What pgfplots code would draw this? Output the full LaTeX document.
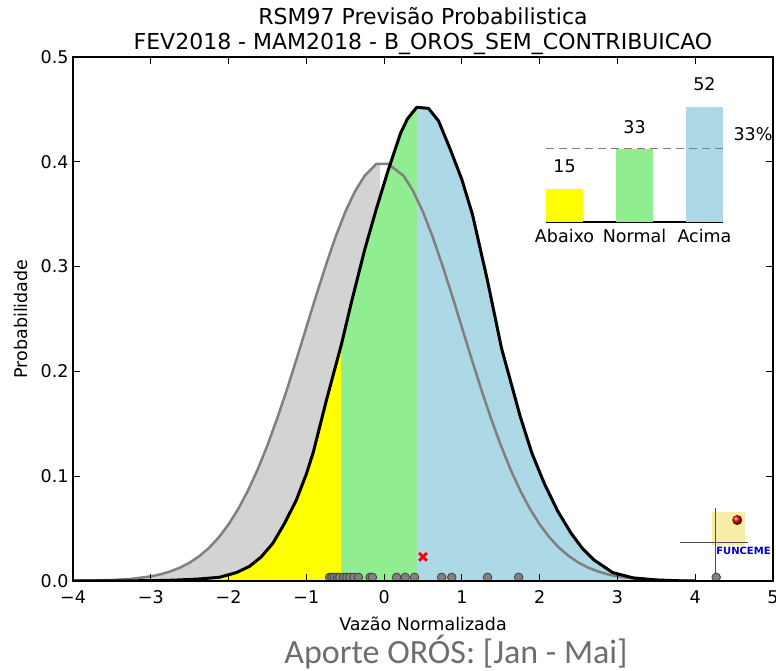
\documentclass[border=0pt]{standalone}
\usepackage{fontspec}
\setmainfont{DejaVu Sans}
\newfontfamily\bottomfont{Carlito}
\usepackage{pgfplots}
\usepackage{pgfplotstable}
\pgfplotsset{compat=1.18}
\usepgfplotslibrary{fillbetween}

\definecolor{cyel}{HTML}{FFFF00}
\definecolor{cgreen}{HTML}{90EE90}
\definecolor{cblue}{HTML}{ADD8E6}
\definecolor{cgrayfill}{HTML}{D3D3D3}
\definecolor{cgrayline}{HTML}{808080}
\definecolor{clogo}{HTML}{F8EDA6}
\definecolor{cbottom}{HTML}{6E6E6E}

\pgfplotstableread{
x y
-4 0.0001
-3.75 0.0004
-3.5 0.0009
-3.25 0.0020
-3 0.0044
-2.875 0.0064
-2.75 0.0091
-2.625 0.0127
-2.5 0.0175
-2.375 0.0238
-2.25 0.0317
-2.125 0.0417
-2 0.0540
-1.875 0.0688
-1.75 0.0863
-1.625 0.1065
-1.5 0.1295
-1.375 0.1550
-1.25 0.1826
-1.125 0.2119
-1 0.2420
-0.875 0.2721
-0.75 0.3011
-0.625 0.3282
-0.5 0.3521
-0.375 0.3718
-0.25 0.3867
-0.1 0.3980
0.05 0.3980
0.25 0.3867
0.375 0.3718
0.5 0.3521
0.625 0.3282
0.75 0.3011
0.875 0.2721
1 0.2420
1.125 0.2119
1.25 0.1826
1.375 0.1550
1.5 0.1295
1.625 0.1065
1.75 0.0863
1.875 0.0688
2 0.0540
2.125 0.0417
2.25 0.0317
2.375 0.0238
2.5 0.0175
2.625 0.0127
2.75 0.0091
2.875 0.0064
3 0.0044
3.25 0.0020
3.5 0.0009
3.75 0.0004
4 0.0001
}\graycurve

\pgfplotstableread{
x y
-4 0
-3.5 0.0001
-3.0 0.0003
-2.7 0.0008
-2.4 0.0018
-2.12 0.0035
-1.9 0.008
-1.73 0.014
-1.58 0.023
-1.43 0.036
-1.28 0.055
-1.13 0.077
-1.0 0.102
-0.91 0.123
-0.74 0.173
-0.57 0.220
-0.55 0.2255
-0.42 0.266
-0.25 0.316
-0.1 0.355
0.04 0.389
0.21 0.427
0.30 0.441
0.42 0.452
0.57 0.451
0.70 0.439
0.85 0.412
1.0 0.383
1.135 0.350
1.325 0.288
1.51 0.222
1.75 0.157
1.9 0.122
2.06 0.093
2.23 0.067
2.40 0.046
2.55 0.031
2.70 0.020
2.94 0.008
3.2 0.003
3.5 0.001
3.8 0.0002
4.0 0
}\blackcurve

\pgfplotstableread{
x y
-0.70 0.0035
-0.67 0.0035
-0.64 0.0035
-0.60 0.0035
-0.57 0.0035
-0.52 0.0035
-0.48 0.0035
-0.44 0.0035
-0.39 0.0035
-0.33 0.0035
-0.18 0.0035
-0.15 0.0035
0.16 0.0035
0.27 0.0035
0.39 0.0035
0.74 0.0035
0.87 0.0035
1.33 0.0035
1.73 0.0035
4.27 0.0035
}\obsdots

\begin{document}
\begin{tikzpicture}
\begin{axis}[
  name=main,
  at={(0,0)}, anchor=south west,
  scale only axis, width=700pt, height=524pt,
  xmin=-4, xmax=5, ymin=0, ymax=0.5,
  xtick={-4,-3,-2,-1,0,1,2,3,4,5},
  xticklabels={−4,−3,−2,−1,0,1,2,3,4,5},
  ytick={0,0.1,0.2,0.3,0.4,0.5},
  yticklabels={0.0,0.1,0.2,0.3,0.4,0.5},
  tick align=inside, xtick pos=both, ytick pos=both,
  xticklabel pos=bottom, yticklabel pos=left,
  major tick length=7pt,
  tick style={black, line width=0.8pt},
  axis line style={black, line width=1.3pt},
  tick label style={font=\fontsize{17.5}{20}\selectfont},
  xticklabel style={yshift=-6pt},
  yticklabel style={xshift=-1pt},
  xlabel={Vazão Normalizada}, ylabel={Probabilidade},
  label style={font=\fontsize{17.5}{20}\selectfont},
  xlabel style={yshift=-6pt},
  ylabel style={yshift=6pt},
  title={RSM97 Previsão Probabilistica\\FEV2018 - MAM2018 - B\_OROS\_SEM\_CONTRIBUICAO},
  title style={font=\fontsize{22}{24.5}\selectfont, align=center, yshift=-7pt},
  axis on top,
]
\addplot[name path=base, draw=none] coordinates {(-4,0) (4,0)};
\addplot[name path=gray, draw=none] table[x=x,y=y] {\graycurve};
\addplot[cgrayfill] fill between[of=gray and base, soft clip={domain=-4:-0.05}];
\addplot[name path=blk, draw=none] table[x=x,y=y] {\blackcurve};
\addplot[cyel] fill between[of=blk and base, soft clip={domain=-4:-0.55}];
\addplot[cgreen] fill between[of=blk and base, soft clip={domain=-0.55:0.42}];
\addplot[cblue] fill between[of=blk and base, soft clip={domain=0.42:4}];
\addplot[cgrayline, line width=2.5pt, line join=round] table[x=x,y=y] {\graycurve};
\addplot[black, line width=3pt, line join=round] table[x=x,y=y] {\blackcurve};
\addplot[only marks, mark=*, mark size=4.3pt, mark options={fill=cgrayline, draw=black!75, line width=0.8pt}] table[x=x,y=y] {\obsdots};
\addplot[only marks, mark=x, mark size=5.5pt, red, mark options={line width=2.8pt}] coordinates {(0.5,0.023)};
% FUNCEME logo
\fill[clogo] (axis cs:4.216,0.0344) rectangle (axis cs:4.64,0.0658);
\draw[black!70, line width=1pt] (axis cs:4.255,0.004) -- (axis cs:4.255,0.0697);
\draw[black!70, line width=1pt] (axis cs:3.80,0.0372) -- (axis cs:4.68,0.0372);
\shade[ball color=red!80!black] (axis cs:4.54,0.0582) circle (5pt);
\node[font=\bfseries\fontsize{10}{12}\selectfont, text=blue!80!black] at (axis cs:4.62,0.0286) {FUNCEME};
\end{axis}

\begin{axis}[
  at={(473pt,359pt)}, anchor=south west,
  scale only axis, width=177pt, height=133pt,
  xmin=-0.265, xmax=2.265, ymin=0, ymax=60,
  axis x line=bottom, axis y line=none,
  axis line style={-, black, line width=1.2pt},
  xtick={0,1,2}, xticklabels={Abaixo,Normal,Acima},
  ytick=\empty,
  tick align=inside, major tick length=5pt,
  tick style={black, line width=0.8pt},
  tick label style={font=\fontsize{17.5}{20}\selectfont},
  xticklabel style={yshift=-4pt},
  /pgf/number format/assume math mode=true,
  clip=false,
]
\addplot[ybar, bar width=37pt, bar shift=0pt, fill=cyel, draw=none,
  nodes near coords, every node near coord/.append style={font=\fontsize{17.5}{20}\selectfont, yshift=12pt}] coordinates {(0,15)};
\addplot[ybar, bar width=37pt, bar shift=0pt, fill=cgreen, draw=none,
  nodes near coords, every node near coord/.append style={font=\fontsize{17.5}{20}\selectfont, yshift=12pt}] coordinates {(1,33)};
\addplot[ybar, bar width=37pt, bar shift=0pt, fill=cblue, draw=none,
  nodes near coords, every node near coord/.append style={font=\fontsize{17.5}{20}\selectfont, yshift=12pt}] coordinates {(2,52)};
\addplot[cgrayline, line width=1.2pt, dash pattern=on 8pt off 5pt] coordinates {(-0.265,33.33) (2.265,33.33)};
\node[anchor=west, font=\fontsize{17.5}{20}\selectfont, xshift=7pt, yshift=14pt] at (axis cs:2.265,33.33) {33\%};
\end{axis}

\node[font=\bottomfont\fontsize{34}{40}\selectfont, text=cbottom] at (383pt,-71pt) {Aporte ORÓS: [Jan - Mai]};

\pgfresetboundingbox
\useasboundingbox (-73pt,-90pt) rectangle (703pt,581pt);
\end{tikzpicture}
\end{document}
